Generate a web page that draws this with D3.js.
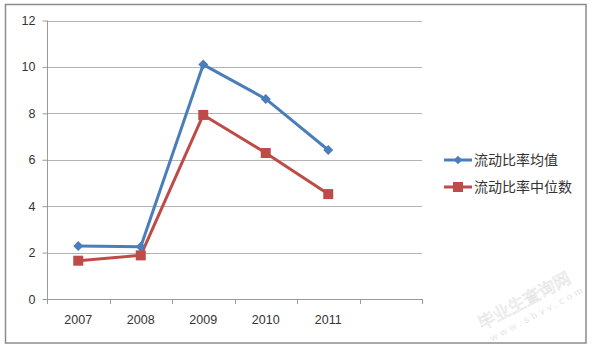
<!DOCTYPE html>
<html><head><meta charset="utf-8">
<script src="https://cdn.jsdelivr.net/npm/d3@7"></script>
<style>body{margin:0;background:#fff}svg{display:block}</style>
</head><body>
<script>
const categories = ["2007","2008","2009","2010","2011",""];
const seriesNames = ["流动比率均值","流动比率中位数"];
const meanValues = [2.28, 2.25, 10.1, 8.62, 6.42];
const medianValues = [1.65, 1.88, 7.93, 6.29, 4.52];
const yTicks = [0,2,4,6,8,10,12];

const W=599,H=351;
const svg=d3.select("body").append("svg").attr("width",W).attr("height",H);
svg.append("rect").attr("x",5.5).attr("y",4.5).attr("width",580.5).attr("height",338.5)
  .attr("fill","#fff").attr("stroke","#8c8c8c").attr("stroke-width",1.5);

const x=d3.scaleBand().domain(categories).range([47,422]);
const y=d3.scaleLinear().domain([0,12]).range([299,20.5]);
const font="'Liberation Sans', Arial, sans-serif";

// gridlines
svg.append("g").selectAll("line").data(yTicks.filter(d=>d>0)).join("line")
  .attr("x1",47).attr("x2",422).attr("y1",d=>Math.round(y(d))+0.5).attr("y2",d=>Math.round(y(d))+0.5)
  .attr("stroke","#b3b3b3").attr("stroke-width",1);

// y axis
const ya=svg.append("g").attr("transform","translate(47.5,0)")
  .call(d3.axisLeft(y).tickValues(yTicks).tickSize(5).tickPadding(7));
ya.select(".domain").attr("stroke","#9a9a9a").attr("d","M0,"+y(12)+"V"+y(0));
ya.selectAll(".tick line").attr("stroke","#9a9a9a");
ya.selectAll("text").attr("font-family",font).attr("font-size","12.5px").attr("fill","#333");

// x axis
const xa=svg.append("g").attr("transform","translate(0,"+(Math.round(y(0))+0.5)+")")
  .call(d3.axisBottom(x).tickSize(0).tickPadding(16));
xa.select(".domain").attr("stroke","#9a9a9a").attr("d","M47,0H422");
xa.selectAll("text").attr("font-family",font).attr("font-size","12.5px").attr("fill","#333");
svg.append("g").selectAll("line").data(categories.map(c=>x(c)).concat([422])).join("line")
  .attr("x1",d=>Math.round(d)+0.5).attr("x2",d=>Math.round(d)+0.5)
  .attr("y1",Math.round(y(0))).attr("y2",Math.round(y(0))+5).attr("stroke","#9a9a9a");

const cx=(i)=>x(categories[i])+x.bandwidth()/2;
const line=d3.line().x((d,i)=>cx(i)).y(d=>y(d));
const colors=["#4a7ebb","#be4b48"];
const data=[meanValues,medianValues];

data.forEach((vals,k)=>{
  svg.append("path").datum(vals).attr("d",line).attr("fill","none")
    .attr("stroke",colors[k]).attr("stroke-width",3).attr("stroke-linejoin","round");
});
// markers
const diamond=d3.symbol(d3.symbolSquare,50)();
svg.append("g").selectAll("path").data(meanValues).join("path")
  .attr("d",diamond)
  .attr("transform",(d,i)=>"translate("+cx(i)+","+y(d)+") rotate(45)").attr("fill",colors[0]);
svg.append("g").selectAll("rect").data(medianValues).join("rect")
  .attr("x",(d,i)=>cx(i)-5).attr("y",d=>y(d)-5).attr("width",10).attr("height",10).attr("fill",colors[1]);

// legend
const lg=svg.append("g");
seriesNames.forEach((n,k)=>{
  const ly=160+k*27;
  lg.append("line").attr("x1",444).attr("x2",472).attr("y1",ly).attr("y2",ly)
    .attr("stroke",colors[k]).attr("stroke-width",3);
  if(k===0) lg.append("path").attr("d",d3.symbol(d3.symbolSquare,36)()).attr("transform","translate(458,"+ly+") rotate(45)").attr("fill",colors[0]);
  else lg.append("rect").attr("x",453).attr("y",ly-5).attr("width",10).attr("height",10).attr("fill",colors[1]);
  lg.append("text").attr("x",474).attr("y",ly+5).text(n)
    .attr("font-family","'Noto Sans CJK SC', sans-serif").attr("font-size","14px").attr("fill","#333");
});

// watermark
const wm=svg.append("g").attr("transform","translate(527,306) rotate(-28)").attr("opacity",0.3);
wm.append("text").attr("text-anchor","middle").attr("x",0).attr("y",0).text("毕业生查询网")
  .attr("font-family","'Noto Sans CJK SC', sans-serif").attr("font-size","17px").attr("fill","none").attr("stroke","#999").attr("stroke-width",0.6);
wm.append("text").attr("text-anchor","middle").attr("x",6).attr("y",15).text("www.sbvv.com")
  .attr("font-family",font).attr("font-size","10px").attr("fill","#aaa").attr("letter-spacing","3.5px");
</script>
</body></html>
